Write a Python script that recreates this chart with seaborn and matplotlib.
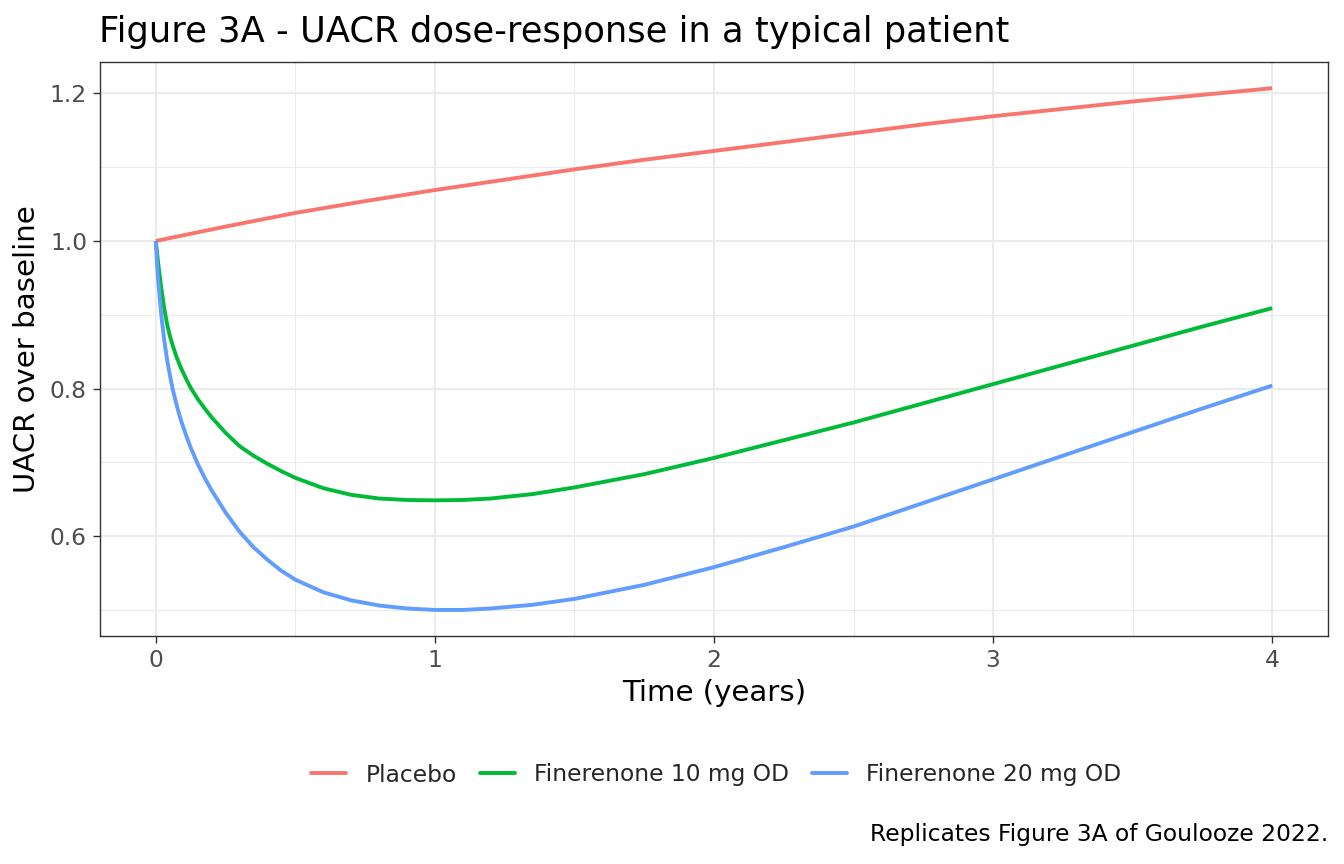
import numpy as np
import pandas as pd
import matplotlib
matplotlib.use("Agg")
import matplotlib.pyplot as plt
import seaborn as sns
from matplotlib.ticker import MultipleLocator
from matplotlib.lines import Line2D

# ---- data ----
placebo_time = [0, 0.25, 0.5, 0.75, 1, 1.25, 1.5, 1.75, 2, 2.25, 2.5, 2.75,
                3, 3.25, 3.5, 3.75, 4]
placebo_uacr = [1.0, 1.0195, 1.038, 1.054, 1.069, 1.083, 1.097, 1.110, 1.122,
                1.134, 1.146, 1.158, 1.169, 1.179, 1.189, 1.198, 1.207]

drug_time = [0, 0.005, 0.01, 0.02, 0.03, 0.04, 0.05, 0.06, 0.075, 0.09,
             0.11, 0.125, 0.15, 0.175, 0.2, 0.25, 0.3, 0.35, 0.4, 0.45,
             0.5, 0.6, 0.7, 0.8, 0.9, 1.0, 1.1, 1.2, 1.35, 1.5,
             1.75, 2.0, 2.25, 2.5, 2.75, 3.0, 3.25, 3.5, 3.75, 4.0]
fin10_uacr = [1.0, 0.982, 0.965, 0.935, 0.909, 0.888, 0.872, 0.859, 0.842, 0.828,
              0.812, 0.801, 0.786, 0.773, 0.761, 0.740, 0.722, 0.709, 0.698, 0.688,
              0.679, 0.665, 0.656, 0.651, 0.649, 0.6485, 0.649, 0.651, 0.657, 0.666,
              0.684, 0.706, 0.730, 0.754, 0.780, 0.806, 0.832, 0.858, 0.884, 0.909]
fin20_uacr = [1.0, 0.965, 0.940, 0.898, 0.866, 0.840, 0.819, 0.800, 0.777, 0.757,
              0.735, 0.720, 0.698, 0.679, 0.662, 0.632, 0.606, 0.585, 0.568, 0.553,
              0.541, 0.524, 0.513, 0.506, 0.502, 0.500, 0.500, 0.502, 0.507, 0.515,
              0.534, 0.558, 0.585, 0.613, 0.645, 0.677, 0.709, 0.741, 0.773, 0.804]

groups = ["Placebo", "Finerenone 10 mg OD", "Finerenone 20 mg OD"]
colors = ["#F8766D", "#00BA38", "#619CFF"]

x_ticks = [0, 1, 2, 3, 4]
y_ticks = [0.6, 0.8, 1.0, 1.2]

title = "Figure 3A - UACR dose-response in a typical patient"
xlabel = "Time (years)"
ylabel = "UACR over baseline"
caption = "Replicates Figure 3A of Goulooze 2022."

df = pd.concat([
    pd.DataFrame({"time": placebo_time, "uacr": placebo_uacr, "group": groups[0]}),
    pd.DataFrame({"time": drug_time, "uacr": fin10_uacr, "group": groups[1]}),
    pd.DataFrame({"time": drug_time, "uacr": fin20_uacr, "group": groups[2]}),
], ignore_index=True)

sns.set_style("white")
plt.rcParams["font.family"] = ["DejaVu Sans"]

fig = plt.figure(figsize=(13.44, 8.64), dpi=100)
ax = fig.add_axes([100 / 1344, 1 - 636 / 864, 1228 / 1344, 574 / 864])

sns.lineplot(data=df, x="time", y="uacr", hue="group", hue_order=groups,
             palette=dict(zip(groups, colors)), linewidth=2.8, ax=ax,
             legend=False, estimator=None, sort=True)
for ln in ax.get_lines():
    ln.set_solid_joinstyle("round")
    ln.set_solid_capstyle("butt")

ax.set_xlim(-0.2, 4.2)
ax.set_ylim(0.4647, 1.2425)
ax.xaxis.set_minor_locator(MultipleLocator(0.5))
ax.yaxis.set_minor_locator(MultipleLocator(0.1))
ax.set_xticks(x_ticks)
ax.set_yticks(y_ticks)
ax.set_xticklabels([str(v) for v in x_ticks])
ax.set_yticklabels([f"{v:.1f}" for v in y_ticks])

ax.grid(which="major", color="#EBEBEB", linewidth=1.5)
ax.grid(which="minor", color="#EBEBEB", linewidth=0.75)
ax.set_axisbelow(True)
for s in ax.spines.values():
    s.set_color("#333333")
    s.set_linewidth(1.0)

ax.tick_params(axis="both", which="major", length=5.2, width=1.0,
               color="#333333", labelcolor="#4D4D4D", labelsize=16.8, pad=4.2,
               bottom=True, left=True)
ax.tick_params(axis="both", which="minor", length=0)

ax.set_xlabel(xlabel, fontsize=21.1, color="black", labelpad=5)
ax.set_ylabel(ylabel, fontsize=21.1, color="black", labelpad=6)

fig.text(99 / 1344, 1 - 41.7 / 864, title, fontsize=25.4, color="black",
         ha="left", va="baseline")

handles = [Line2D([0], [0], color=c, linewidth=2.8) for c in colors]
fig.legend(handles, groups, loc="center", bbox_to_anchor=(716.5 / 1344, 1 - 775 / 864),
           ncol=3, frameon=False, fontsize=16.8, handlelength=1.5,
           handletextpad=0.85, columnspacing=0.95)

fig.text(1328 / 1344, 1 - 834 / 864, caption, fontsize=16.8, color="black",
         ha="right", va="center")

fig.savefig("out.png", dpi=100)
